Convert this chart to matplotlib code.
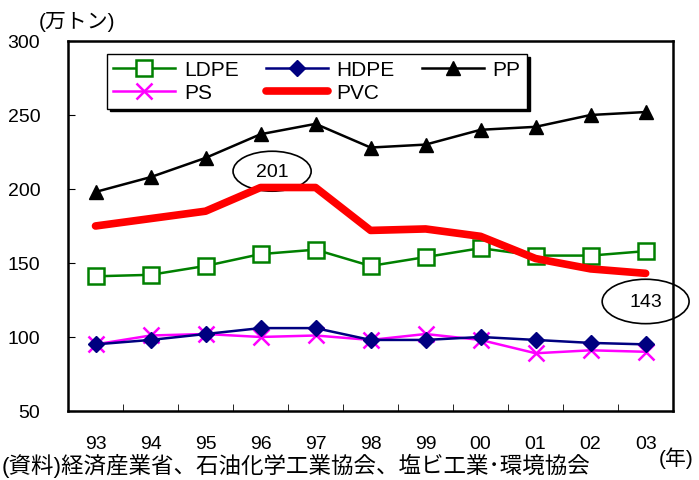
import matplotlib.pyplot as plt
from matplotlib.patches import Ellipse

plt.rcParams['font.family'] = ['Liberation Sans', 'Noto Sans CJK JP', 'DejaVu Sans']

years = ["93", "94", "95", "96", "97", "98", "99", "00", "01", "02", "03"]
ldpe = [141, 142, 148, 156, 159, 148, 154, 160, 155, 155, 158]
hdpe = [95, 98, 102, 106, 106, 98, 98, 100, 98, 96, 95]
pp = [198, 208, 221, 237, 244, 228, 230, 240, 242, 250, 252]
ps = [95, 101, 102, 100, 101, 98, 102, 98, 89, 91, 90]
pvc = [175, 180, 185, 201, 201, 172, 173, 168, 153, 146, 143]

fig = plt.figure(figsize=(6.99, 4.81), dpi=100)
ax = fig.add_axes([0.0973, 0.1435, 0.8657, 0.7692])
x = list(range(len(years)))

ax.plot(x, ldpe, color='#008000', lw=1.8, marker='s', ms=11, mfc='white', mec='#008000', mew=1.8, label='LDPE')
ax.plot(x, ps, color='#ff00ff', lw=1.8, marker='x', ms=11, mew=1.8, label='PS')
ax.plot(x, hdpe, color='#000080', lw=1.8, marker='D', ms=8, mfc='#000080', label='HDPE')
ax.plot(x, pvc, color='red', lw=5.5, solid_capstyle='round', label='PVC')
ax.plot(x, pp, color='black', lw=1.8, marker='^', ms=10, label='PP')

ax.set_xlim(-0.5, len(years) - 0.5)
ax.set_ylim(50, 300)
ax.set_yticks([50, 100, 150, 200, 250, 300])
ax.set_xticks(x)
ax.set_xticklabels(years)
ax.set_xticks([i + 0.5 for i in x[:-1]], minor=True)
ax.tick_params(axis='x', which='major', length=0, pad=17, labelsize=14)
ax.tick_params(axis='x', which='minor', direction='in', length=5)
ax.tick_params(axis='y', direction='in', length=5, pad=20, labelsize=14)
for s in ax.spines.values():
    s.set_linewidth(1.8)

# callouts
ax.add_patch(Ellipse((3.21, 212), 1.42, 27, fill=False, lw=1.2, clip_on=False))
ax.text(3.21, 212, '201', ha='center', va='center', fontsize=14)
ax.add_patch(Ellipse((10.0, 124), 1.58, 30, fill=False, lw=1.2, clip_on=False))
ax.text(10.0, 124, '143', ha='center', va='center', fontsize=14, clip_on=False)

leg = ax.legend(ncol=3, loc='upper left', bbox_to_anchor=(0.064, 0.965), borderaxespad=0,
                fontsize=15, handlelength=3.0, columnspacing=1.3, handletextpad=0.4,
                labelspacing=0.2, borderpad=0.3, fancybox=False, edgecolor='black',
                shadow={'color': 'black', 'alpha': 1})
leg.get_frame().set_linewidth(1.0)

fig.text(0.055, 0.975, '(万トン)', fontsize=15, va='top', ha='left')
fig.text(0.942, 0.048, '(年)', fontsize=15, va='center', ha='left')
fig.text(0.003, 0.006, '(資料)経済産業省、石油化学工業協会、塩ビ工業･環境協会', fontsize=16.2, va='bottom', ha='left')

fig.savefig('out.png', dpi=100)
